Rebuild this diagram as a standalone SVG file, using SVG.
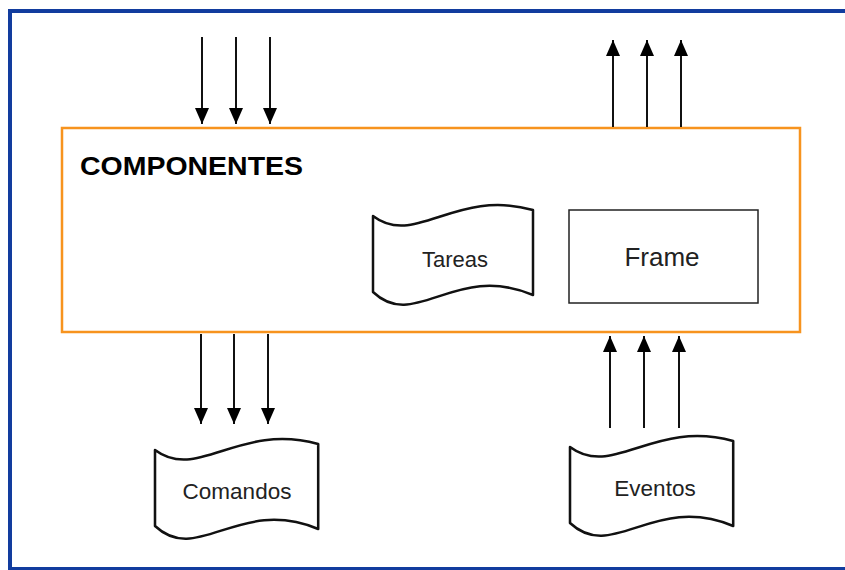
<svg xmlns="http://www.w3.org/2000/svg" width="845" height="570" viewBox="0 0 845 570">
  <style>
    .frame-border { fill: none; stroke: #123c9e; stroke-width: 4; }
    .container { fill: #ffffff; stroke: #f7931e; stroke-width: 2.5; }
    .box { fill: #ffffff; stroke: #222222; stroke-width: 1.5; }
    .tape { fill: #ffffff; stroke: #111111; stroke-width: 2.5; stroke-linejoin: round; }
    .wire { stroke: #111111; stroke-width: 2; fill: none; marker-end: url(#head); }
    .label { font-family: "Liberation Sans", Arial, sans-serif; fill: #222222; text-anchor: middle; }
    .title { font-family: "Liberation Sans", Arial, sans-serif; font-weight: bold; fill: #000000; }
  </style>
  <defs>
    <marker id="head" viewBox="0 0 16 14" refX="16" refY="7" markerWidth="16" markerHeight="14" markerUnits="userSpaceOnUse" orient="auto">
      <path d="M0,0 L16,7 L0,14 z" fill="#000000"/>
    </marker>
    <!-- punched-tape shape, 160 wide -->
    <path id="tapeShape" d="M0,6 C42,38 82,-22 160,0 L160,85 C82,52 42,122 0,82 Z"/>
  </defs>

  <rect width="845" height="570" fill="#ffffff"/>
  <!-- outer frame: open on the right -->
  <path class="frame-border" d="M845,11 L10,11 L10,569 L845,569"/>

  <g id="componentes">
    <rect class="container" x="62" y="128" width="738" height="204"/>
    <text class="title" x="80" y="175" font-size="25" textLength="223" lengthAdjust="spacingAndGlyphs">COMPONENTES</text>
  </g>

  <g id="tareas">
    <use href="#tapeShape" class="tape" transform="translate(373,210)"/>
    <text class="label" x="455" y="267" font-size="22">Tareas</text>
  </g>

  <g id="frame">
    <rect class="box" x="569" y="210" width="189" height="93"/>
    <text class="label" x="662" y="266" font-size="26">Frame</text>
  </g>

  <g id="comandos">
    <use href="#tapeShape" class="tape" transform="translate(155,444) scale(1.02,1)"/>
    <text class="label" x="237" y="499" font-size="22.5">Comandos</text>
  </g>

  <g id="eventos">
    <use href="#tapeShape" class="tape" transform="translate(570,441) scale(1.02,1)"/>
    <text class="label" x="655" y="496" font-size="22.5">Eventos</text>
  </g>

  <g id="connectors">
    <!-- inputs into the component -->
    <line class="wire" x1="202" y1="37" x2="202" y2="124"/>
    <line class="wire" x1="236" y1="37" x2="236" y2="124"/>
    <line class="wire" x1="270" y1="37" x2="270" y2="124"/>
    <!-- outputs from the component -->
    <line class="wire" x1="613" y1="127" x2="613" y2="40"/>
    <line class="wire" x1="647" y1="127" x2="647" y2="40"/>
    <line class="wire" x1="681" y1="127" x2="681" y2="40"/>
    <!-- component to Comandos -->
    <line class="wire" x1="201" y1="334" x2="201" y2="424"/>
    <line class="wire" x1="234" y1="334" x2="234" y2="424"/>
    <line class="wire" x1="268" y1="334" x2="268" y2="424"/>
    <!-- Eventos to component -->
    <line class="wire" x1="610" y1="428" x2="610" y2="336"/>
    <line class="wire" x1="644" y1="428" x2="644" y2="336"/>
    <line class="wire" x1="679" y1="428" x2="679" y2="336"/>
  </g>
</svg>
